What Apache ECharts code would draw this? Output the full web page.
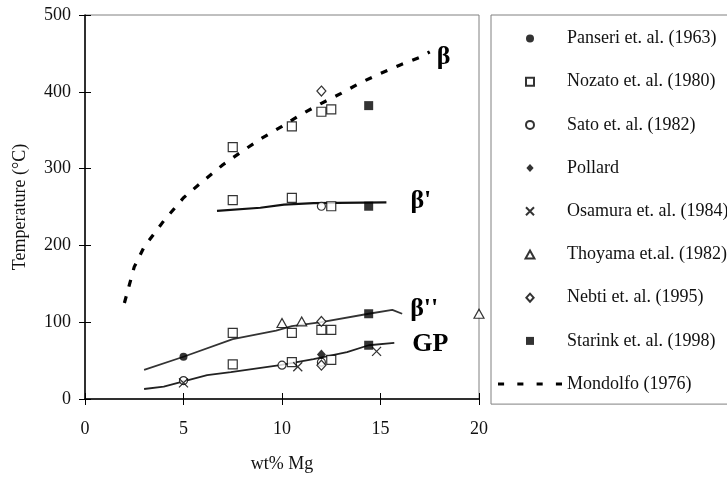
<!DOCTYPE html>
<html>
<head>
<meta charset="utf-8">
<script src="https://cdn.jsdelivr.net/npm/echarts@6/dist/echarts.min.js"></script>
<style>
  html, body { margin: 0; padding: 0; background: #fff; }
  #chart { width: 727px; height: 478px; }
</style>
</head>
<body>
<div id="chart"></div>
<script>
// Precipitation / dissolution temperatures of Al-Mg phases vs. Mg content
const xTicks = [0, 5, 10, 15, 20];
const yTicks = [0, 100, 200, 300, 400, 500];

// Measured points, [wt% Mg, temperature °C]
const panseri = [[5, 55]];
const nozato = [[7.5, 328], [7.5, 259], [7.5, 86], [7.5, 45], [10.5, 355], [10.5, 262], [10.5, 86], [10.5, 48],
                [12, 374], [12, 90], [12.5, 377], [12.5, 251], [12.5, 90], [12.5, 51]];
const sato = [[5, 24], [10, 44], [12, 251], [12, 48]];
const pollard = [[12, 58]];
const osamura = [[5, 21], [10.8, 42], [14.8, 62]];
const thoyama = [[10, 99], [11, 101], [20, 111]];
const nebti = [[12, 401], [12, 101], [12, 44]];
const starink = [[14.4, 382], [14.4, 251], [14.4, 111], [14.4, 70]];

// Solvus curves
const mondolfo = [[2, 125], [2.5, 172], [3, 198], [4, 232], [5, 262], [6, 284], [7, 305], [8, 323], [9, 340],
                  [10, 355], [11, 371], [12, 385], [13, 398], [14, 412], [15, 424], [16, 435], [17, 445], [17.5, 452]];
const betaPrime = [[6.7, 245], [8.9, 249], [10.1, 253], [11.6, 255], [15.3, 256]];
const betaDoublePrime = [[3, 38], [5, 55], [7.5, 78], [9.7, 89], [10.5, 95], [12, 100], [14.4, 111], [15.6, 116], [16.1, 111]];
const gp = [[3, 13], [4, 16], [5, 23], [6.2, 31], [7.4, 35], [9.9, 44], [11.6, 52], [13.3, 61], [14.4, 70], [15.7, 73]];

const serif = 'Liberation Serif';
// Marker shapes as paths so they keep their aspect inside the legend
const squarePath = 'path://M0,0L10,0L10,10L0,10Z';
const diamondPath = 'path://M5,0L10,5.5L5,11L0,5.5Z';
const trianglePath = 'path://M5,0L10,9L0,9Z';
const crossPath = 'path://M0,0L10,10M10,0L0,10';
// Legend key for the dashed curve: four short heavy dashes
const dashKeyPath = 'path://M0,0h6v3h-6z M19,0h6v3h-6z M38,0h6v3h-6z M57,0h6v3h-6z';

const openStyle = { color: '#fff', borderColor: '#000', borderWidth: 1.2 };
const solidStyle = { color: '#000', borderColor: '#000', borderWidth: 0 };

function scatter(name, data, symbol, size, style) {
  return { name, type: 'scatter', data, symbol, symbolSize: size, itemStyle: style, clip: false, z: 5 };
}

function curve(name, data, label, color, width, dash, dist, offset) {
  return {
    name, type: 'line', data, symbol: 'none', showSymbol: false, z: 3, clip: false,
    lineStyle: { color, width, type: dash || 'solid' },
    itemStyle: { color },
    endLabel: {
      show: true, formatter: label, distance: dist, offset: offset,
      fontFamily: serif, fontWeight: 'bold', fontSize: 26, color: '#000'
    }
  };
}

const legendNames = ['Panseri et. al. (1963)', 'Nozato et. al. (1980)', 'Sato et. al. (1982)', 'Pollard',
  'Osamura et. al. (1984)', 'Thoyama et.al. (1982)', 'Nebti et. al. (1995)', 'Starink et. al. (1998)', 'Mondolfo (1976)'];

const axisText = { fontFamily: serif, fontSize: 18, color: '#111' };

const chart = echarts.init(document.getElementById('chart'), null, { renderer: 'canvas' });
chart.setOption({
  animation: false,
  backgroundColor: '#fff',
  grid: { left: 85, right: 248, top: 15, bottom: 74, show: true, borderColor: '#808080', borderWidth: 1 },
  legend: {
    data: legendNames.map(n => n === 'Mondolfo (1976)'
      ? { name: n, icon: dashKeyPath, itemStyle: { color: '#000', borderWidth: 0 } }
      : n),
    orient: 'vertical', left: 491, top: 15,
    padding: [13.5, 6, 10, 7],
    itemWidth: 64, itemHeight: 8, itemGap: 23.2,
    symbolKeepAspect: true,
    borderColor: '#808080', borderWidth: 1,
    selectedMode: false,
    textStyle: { fontFamily: serif, fontSize: 18, color: '#111', lineHeight: 20 }
  },
  xAxis: [
    {
      type: 'value', min: 0, max: 20, interval: 5, position: 'bottom',
      name: 'wt% Mg', nameLocation: 'middle', nameGap: 56, nameTextStyle: axisText,
      axisLine: { lineStyle: { color: '#000', width: 1.5 } },
      axisTick: { length: 6, lineStyle: { color: '#000' } },
      axisLabel: Object.assign({ margin: 21, formatter: v => xTicks.includes(v) ? String(v) : '' }, axisText),
      splitLine: { show: false }
    },
    {
      type: 'value', min: 0, max: 20, interval: 5, position: 'bottom',
      axisLine: { show: false }, axisLabel: { show: false }, splitLine: { show: false },
      axisTick: { inside: true, length: 6, lineStyle: { color: '#000' } }
    }
  ],
  yAxis: [
    {
      type: 'value', min: 0, max: 500, interval: 100, position: 'left',
      name: 'Temperature (°C)', nameLocation: 'middle', nameGap: 56, nameRotate: 90, nameTextStyle: axisText,
      axisLine: { show: true, lineStyle: { color: '#000', width: 1.5 } },
      axisTick: { show: true, length: 6, lineStyle: { color: '#000' } },
      axisLabel: Object.assign({ margin: 14, formatter: v => yTicks.includes(v) ? String(v) : '' }, axisText),
      splitLine: { show: false }
    },
    {
      type: 'value', min: 0, max: 500, interval: 100, position: 'left',
      axisLine: { show: false }, axisLabel: { show: false }, splitLine: { show: false },
      axisTick: { show: true, inside: true, length: 6, lineStyle: { color: '#000' } }
    }
  ],
  series: [
    curve("β'", betaPrime, "β'", '#111', 2.2, null, 24, [0, -1]),
    curve("β''", betaDoublePrime, "β''", '#333', 1.8, null, 8, [0, -4]),
    curve('GP', gp, 'GP', '#222', 1.8, null, 18, [0, 1]),
    curve('Mondolfo (1976)', mondolfo, 'β', '#000', 3.2, [7, 10], 7, [0, 5]),
    scatter('Panseri et. al. (1963)', panseri, 'circle', 8, solidStyle),
    scatter('Nozato et. al. (1980)', nozato, squarePath, 9, openStyle),
    scatter('Sato et. al. (1982)', sato, 'circle', 8, openStyle),
    scatter('Pollard', pollard, diamondPath, [9, 10], solidStyle),
    scatter('Osamura et. al. (1984)', osamura, crossPath, 9, { color: 'rgba(0,0,0,0)', borderColor: '#000', borderWidth: 1.3 }),
    scatter('Thoyama et.al. (1982)', thoyama, trianglePath, [10, 9], openStyle),
    scatter('Nebti et. al. (1995)', nebti, diamondPath, [9, 10], openStyle),
    scatter('Starink et. al. (1998)', starink, squarePath, 9, solidStyle)
  ]
});
</script>
</body>
</html>
